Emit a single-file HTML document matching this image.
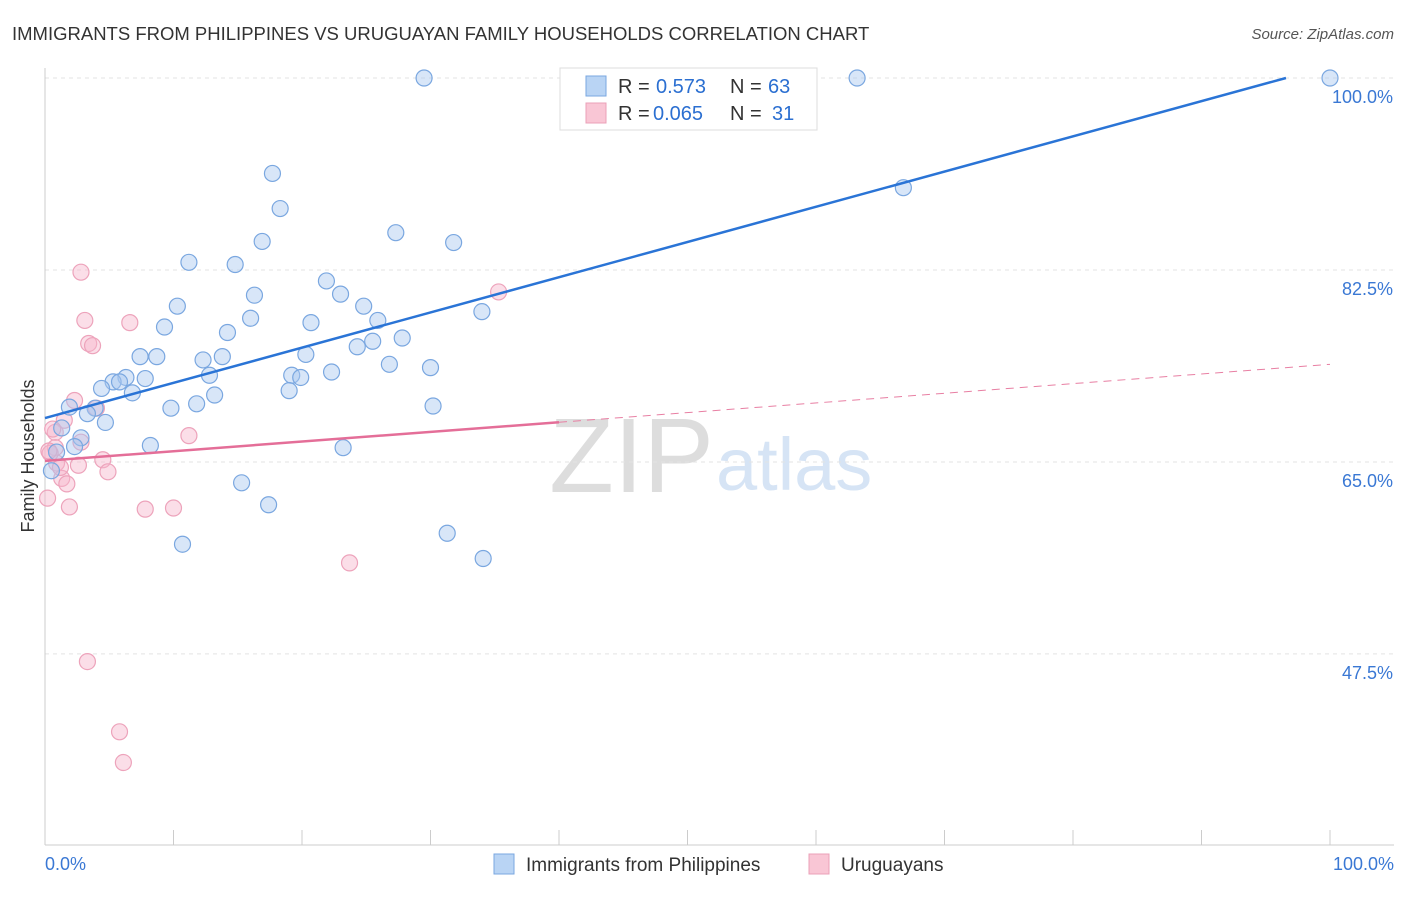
<!DOCTYPE html>
<html><head><meta charset="utf-8"><style>
body{margin:0;background:#fff;font-family:"Liberation Sans",sans-serif}
svg text{font-family:"Liberation Sans",sans-serif}
</style></head><body>
<svg width="1406" height="892" id="chart">
<text x="12" y="40" font-size="18.5" fill="#333">IMMIGRANTS FROM PHILIPPINES VS URUGUAYAN FAMILY HOUSEHOLDS CORRELATION CHART</text>
<text x="1394" y="39" font-size="15" fill="#555" text-anchor="end" font-style="italic">Source: ZipAtlas.com</text>
<text x="714" y="492" font-size="106" fill="#ddd" text-anchor="end" font-family="Liberation Serif">ZIP</text>
<text x="716" y="490" font-size="74" fill="#d6e4f5">atlas</text>
<text transform="translate(34,456) rotate(-90)" font-size="18" fill="#333" text-anchor="middle">Family Households</text>
<g id="grid"></g><g id="marks"></g>
<g>
<rect x="560" y="68" width="257" height="62" fill="#fff" stroke="#ddd"/>
<rect x="586" y="76" width="20" height="20" fill="#b9d4f4" stroke="#7aa7e0"/>
<rect x="586" y="103" width="20" height="20" fill="#f9c6d5" stroke="#eba0b8"/>
<text x="618" y="93" font-size="20" fill="#333">R =</text>
<text x="656" y="93" font-size="20" fill="#2b6fd1">0.573</text>
<text x="730" y="93" font-size="20" fill="#333">N =</text>
<text x="768" y="93" font-size="20" fill="#2b6fd1">63</text>
<text x="618" y="120" font-size="20" fill="#333">R =</text>
<text x="653" y="120" font-size="20" fill="#2b6fd1">0.065</text>
<text x="730" y="120" font-size="20" fill="#333">N =</text>
<text x="772" y="120" font-size="20" fill="#2b6fd1">31</text>
</g>
<g>
<rect x="494" y="854" width="20" height="20" fill="#b9d4f4" stroke="#7aa7e0"/>
<text x="526" y="871" font-size="19" fill="#333">Immigrants from Philippines</text>
<rect x="809" y="854" width="20" height="20" fill="#f9c6d5" stroke="#eba0b8"/>
<text x="841" y="871" font-size="19" fill="#333">Uruguayans</text>
</g>
</svg>
<script>
const yTicks=[100,82.5,65,47.5];
const yTickLabels=["100.0%","82.5%","65.0%","47.5%"];
const xTickLabels=["0.0%","100.0%"];
const blueX=[29.5,63.2,100,66.8,17.7,18.3,16.9,27.3,31.8,11.2,14.8,21.9,16.3,23.0,10.3,24.8,16.0,25.9,9.3,20.7,14.2,25.5,27.8,7.4,8.7,24.3,20.3,12.3,13.8,26.8,34.0,30.0,22.3,12.8,19.2,19.9,7.8,6.3,5.3,5.8,4.4,6.8,13.2,19.0,9.8,11.8,30.2,1.9,3.9,3.3,4.7,1.3,2.8,2.3,0.9,8.2,23.2,15.3,17.4,31.3,10.7,34.1,0.5];
const blueY=[100,100,100,90.0,91.3,88.1,85.1,85.9,85.0,83.2,83.0,81.5,80.2,80.3,79.2,79.2,78.1,77.9,77.3,77.7,76.8,76.0,76.3,74.6,74.6,75.5,74.8,74.3,74.6,73.9,78.7,73.6,73.2,72.9,72.9,72.7,72.6,72.7,72.3,72.3,71.7,71.3,71.1,71.5,69.9,70.3,70.1,70.0,69.9,69.4,68.6,68.1,67.2,66.4,65.9,66.5,66.3,63.1,61.1,58.5,57.5,56.2,64.2];
const pinkX=[2.8,3.1,6.6,3.4,3.7,2.3,4.0,1.5,0.8,2.8,0.8,11.2,4.5,0.9,2.6,4.9,1.3,1.7,0.2,1.9,7.8,10.0,35.3,23.7,3.3,5.8,6.1,0.4,1.2,0.3,0.6];
const pinkY=[82.3,77.9,77.7,75.8,75.6,70.6,69.9,68.8,67.7,66.8,66.3,67.4,65.2,64.9,64.7,64.1,63.5,63.0,61.7,60.9,60.7,60.8,80.5,55.8,46.8,40.4,37.6,65.8,64.5,66.0,68.0];
const blueTrend=[69.0,101.1];
const pinkTrend=[65.1,73.9];
const X=v=>45+v*12.85, Y=v=>78+(100-v)*10.97;
const NS="http://www.w3.org/2000/svg";
const g=document.getElementById('grid'), m=document.getElementById('marks');
function mk(p,t,a){const e=document.createElementNS(NS,t);for(const k in a)e.setAttribute(k,a[k]);p.appendChild(e);return e;}
yTicks.forEach((t,i)=>{
 const l=mk(g,'line',{x1:45,x2:1394,y1:Y(t),y2:Y(t),stroke:'#e3e3e3','stroke-dasharray':'4,4'});
 
 
 const tx=mk(g,'text',{x:1393,y:Y(t)+25,'font-size':18,fill:'#3a78d4','text-anchor':'end'});
 tx.textContent=yTickLabels[i];
 
 
});
let ax=mk(g,'line',{x1:45,x2:45,y1:68,y2:845,stroke:'#ccc'});


ax=mk(g,'line',{x1:45,x2:1394,y1:845,y2:845,stroke:'#ccc'});


for(let i=1;i<=10;i++){const t=mk(g,'line',{x1:X(i*10),x2:X(i*10),y1:830,y2:845,stroke:'#ccc'});
 
 }
[[0,'start',45],[100,'end',1394]].forEach((d,i)=>{const t=mk(g,'text',{x:d[2],y:870,'font-size':18,fill:'#3a78d4','text-anchor':d[1]});t.textContent=xTickLabels[i];
 
 });
pinkX.forEach((x,i)=>{const c=mk(m,'circle',{cx:X(x),cy:Y(pinkY[i]),r:8,fill:'rgba(247,182,203,0.45)',stroke:'#eda3bb','stroke-width':1.2});
 
 });
blueX.forEach((x,i)=>{const c=mk(m,'circle',{cx:X(x),cy:Y(blueY[i]),r:8,fill:'rgba(168,200,240,0.45)',stroke:'#7aa7e0','stroke-width':1.2});
 
 });
const pm=v=>pinkTrend[0]+(pinkTrend[1]-pinkTrend[0])*v/100;
let l=mk(m,'line',{x1:X(40),y1:Y(pm(40)),x2:X(100),y2:Y(pm(100)),stroke:'#e87fa3','stroke-width':1,'stroke-dasharray':'8,6'});


l=mk(m,'line',{x1:X(0),y1:Y(pm(0)),x2:X(40),y2:Y(pm(40)),stroke:'#e46e98','stroke-width':2.5});


const bEnd=(100-blueTrend[0])/(blueTrend[1]-blueTrend[0])*100;
l=mk(m,'line',{x1:X(0),y1:Y(blueTrend[0]),x2:X(bEnd),y2:Y(100),stroke:'#2a74d6','stroke-width':2.5});


</script>
</body></html>
